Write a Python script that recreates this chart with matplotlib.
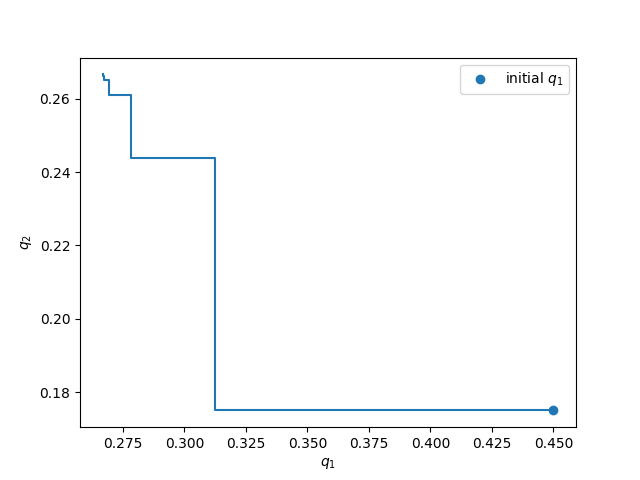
import matplotlib
matplotlib.use('Agg')
import matplotlib.pyplot as plt

# best-response path, alternating q1 / q2 updates
q1_path = [0.45, 0.3125, 0.3125, 0.278125, 0.278125, 0.269531, 0.269531,
           0.267383, 0.267383, 0.266846, 0.266846, 0.266711, 0.266711]
q2_path = [0.175, 0.175, 0.24375, 0.24375, 0.260938, 0.260938, 0.265234,
           0.265234, 0.266309, 0.266309, 0.266577, 0.266577, 0.266644]

q1_init = [0.45]
q2_init = [0.175]


def main():
    fig, ax = plt.subplots(figsize=(6.4, 4.8), dpi=100)
    ax.plot(q1_path, q2_path)
    ax.scatter(q1_init, q2_init, label='initial $q_1$')
    ax.set_xlabel('$q_1$')
    ax.set_ylabel('$q_2$')
    ax.legend()
    fig.savefig('out.png')


if __name__ == '__main__':
    main()
